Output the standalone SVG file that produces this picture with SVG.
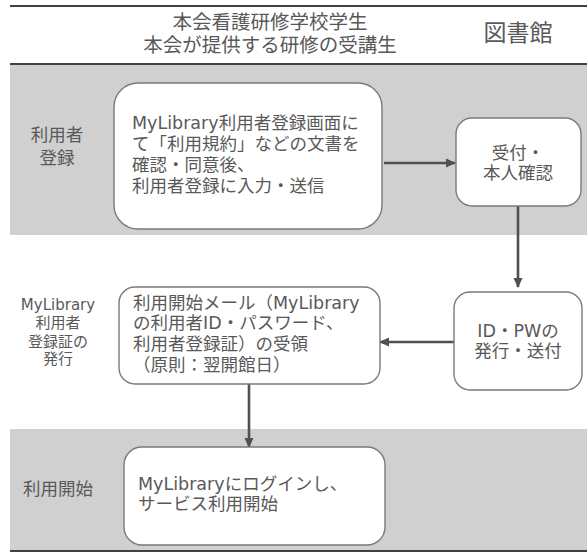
<svg xmlns="http://www.w3.org/2000/svg" width="587" height="553" viewBox="0 0 587 553">
<defs>
<style>
.t{font-family:"DejaVu Sans","Noto Sans CJK JP",sans-serif;fill:#595959;}
.box{fill:#ffffff;stroke:#7a7a7a;stroke-width:1.4;}
.band{fill:#d0d0d0;}
.rule{stroke:#404040;stroke-width:2;}
.conn{stroke:#505050;stroke-width:2.6;fill:none;marker-end:url(#ah);}
</style>
<marker id="ah" markerUnits="userSpaceOnUse" markerWidth="10" markerHeight="10" viewBox="0 0 10 10" refX="9" refY="5" orient="auto">
<path d="M0,0.5 L10,5 L0,9.5 Z" fill="#505050"/>
</marker>
</defs>
<rect width="587" height="553" fill="#ffffff"/>
<g id="bands">
<rect class="band" x="10" y="65" width="577" height="170"/>
<rect class="band" x="10" y="429" width="577" height="121"/>
<line class="rule" x1="10" y1="6" x2="587" y2="6"/>
<line class="rule" x1="10" y1="64" x2="587" y2="64"/>
<line class="rule" x1="10" y1="551" x2="587" y2="551" stroke="#222"/>
</g>
<g id="header">
<text class="t" x="270" y="28.5" font-size="19.5" text-anchor="middle">本会看護研修学校学生</text>
<text class="t" x="270" y="51.5" font-size="19.5" text-anchor="middle">本会が提供する研修の受講生</text>
<text class="t" x="518" y="40.5" font-size="23" text-anchor="middle">図書館</text>
</g>
<g id="lane-labels">
<text class="t" font-size="17.5" text-anchor="middle"><tspan x="57" y="140.5">利用者</tspan><tspan x="57" y="163.5">登録</tspan></text>
<text class="t" font-size="15" text-anchor="middle"><tspan x="58" y="309.5">MyLibrary</tspan><tspan x="58" y="327.5">利用者</tspan><tspan x="58" y="346.5">登録証の</tspan><tspan x="58" y="363.5">発行</tspan></text>
<text class="t" font-size="17.5" text-anchor="middle" x="58" y="494.5">利用開始</text>
</g>
<g id="connectors">
<line class="conn" x1="384" y1="163" x2="455" y2="163"/>
<line class="conn" x1="518" y1="206" x2="518" y2="287"/>
<line class="conn" x1="454" y1="342" x2="380" y2="342"/>
<line class="conn" x1="249" y1="384" x2="249" y2="447"/>
</g>
<g id="node-register">
<rect class="box" x="114" y="83" width="268" height="146" rx="24"/>
<text class="t" font-size="17.5"><tspan x="132" y="128.5">MyLibrary利用者登録画面に</tspan><tspan x="132" y="149.5">て「利用規約」などの文書を</tspan><tspan x="132" y="170.5">確認・同意後、</tspan><tspan x="132" y="191.5">利用者登録に入力・送信</tspan></text>
</g>
<g id="node-receipt">
<rect class="box" x="456" y="118" width="125" height="88" rx="16"/>
<text class="t" font-size="17.5" text-anchor="middle"><tspan x="518" y="158.5">受付・</tspan><tspan x="518" y="178.5">本人確認</tspan></text>
</g>
<g id="node-mail">
<rect class="box" x="119" y="287" width="261" height="97" rx="16"/>
<text class="t" font-size="17.5"><tspan x="133" y="308.5">利用開始メール（MyLibrary</tspan><tspan x="133" y="328.5">の利用者ID・パスワード、</tspan><tspan x="133" y="349.5">利用者登録証）の受領</tspan><tspan x="133" y="370.5">（原則：翌開館日）</tspan></text>
</g>
<g id="node-issue">
<rect class="box" x="454" y="292" width="128" height="98" rx="16"/>
<text class="t" font-size="17.5" text-anchor="middle"><tspan x="518" y="336.5">ID・PWの</tspan><tspan x="518" y="356.5">発行・送付</tspan></text>
</g>
<g id="node-start">
<rect class="box" x="124" y="447" width="261" height="98" rx="18"/>
<text class="t" font-size="17.5"><tspan x="138" y="489.5">MyLibraryにログインし、</tspan><tspan x="138" y="509.5">サービス利用開始</tspan></text>
</g>
</svg>
